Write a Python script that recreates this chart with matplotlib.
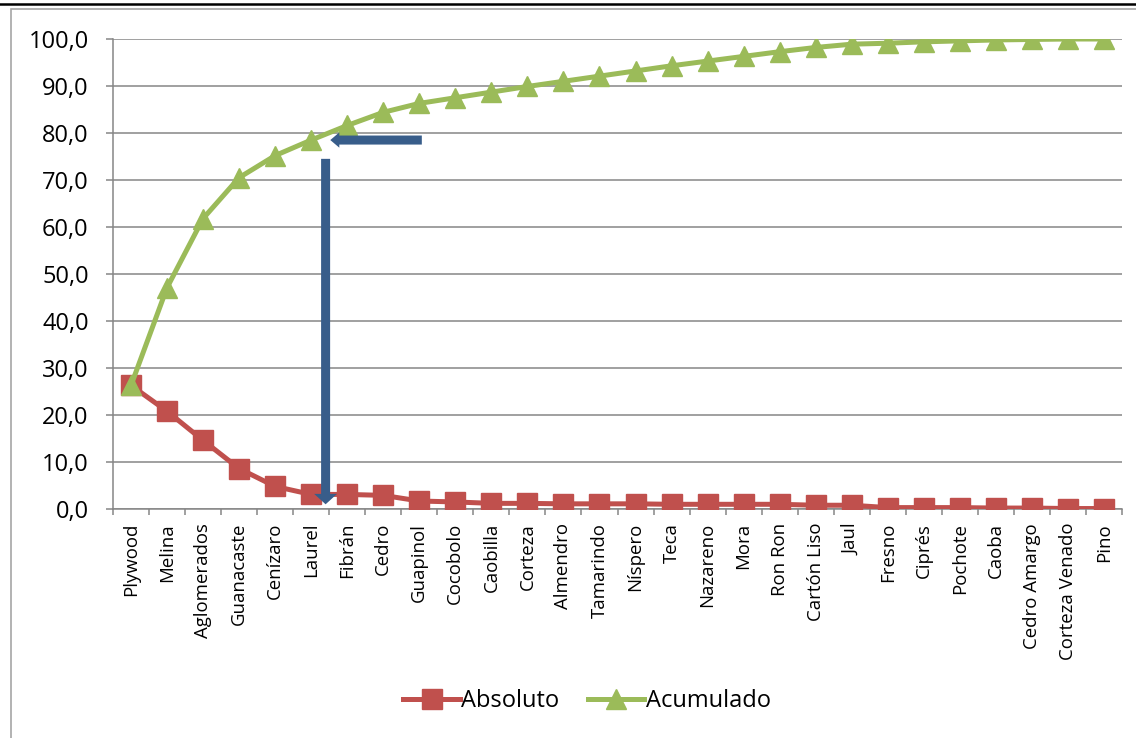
import matplotlib.pyplot as plt
from matplotlib.lines import Line2D
from matplotlib.patches import FancyArrowPatch, Rectangle, ArrowStyle

plt.rcParams["font.family"] = ["Open Sans", "DejaVu Sans"]

# data
especies = ["Plywood", "Melina", "Aglomerados", "Guanacaste", "Cenízaro", "Laurel",
            "Fibrán", "Cedro", "Guapinol", "Cocobolo", "Caobilla", "Corteza",
            "Almendro", "Tamarindo", "Níspero", "Teca", "Nazareno", "Mora",
            "Ron Ron", "Cartón Liso", "Jaul", "Fresno", "Ciprés", "Pochote",
            "Caoba", "Cedro Amargo", "Corteza Venado", "Pino"]
absoluto = [26.3, 20.8, 14.6, 8.6, 4.8, 3.1, 3.1, 2.9, 1.7, 1.5, 1.2, 1.2, 1.1, 1.1,
            1.1, 1.0, 1.0, 1.0, 1.0, 0.8, 0.8, 0.3, 0.3, 0.3, 0.2, 0.2, 0.1, 0.1]
acumulado = [26.3, 47.1, 61.8, 70.5, 75.2, 78.5, 81.6, 84.4, 86.3, 87.5, 88.7, 89.9,
             91.0, 92.1, 93.2, 94.3, 95.3, 96.3, 97.3, 98.2, 98.9, 99.1, 99.4, 99.6,
             99.8, 99.9, 100.0, 100.0]

# arrows marking the 80 % cut (x in category units, y in %)
flecha_h = [(8.07, 78.5), (5.53, 78.5)]
flecha_v = [(5.40, 74.5), (5.40, 1.0)]

rojo = "#C0504D"
verde = "#9BBB59"
azul = "#385D8A"
gris = "#868686"

fig = plt.figure(figsize=(11.36, 7.38), dpi=100)
ax = fig.add_axes([113 / 1136, 1 - 509 / 738, (1122 - 113) / 1136, 470 / 738])

x = list(range(len(especies)))
l1, = ax.plot(x, absoluto, color=rojo, lw=3.6, marker="s", ms=13.8,
              mec=rojo, mfc=rojo, label="Absoluto", zorder=3)
l2, = ax.plot(x, acumulado, color=verde, lw=3.6, marker="^", ms=15,
              mec=verde, mfc=verde, label="Acumulado", zorder=4)

estilo_h = ArrowStyle.Simple(head_length=6.5, head_width=11, tail_width=6.5)
estilo_v = ArrowStyle.Simple(head_length=7.5, head_width=16.5, tail_width=6.5)
for (p0, p1), estilo in [(flecha_h, estilo_h), (flecha_v, estilo_v)]:
    ax.add_patch(FancyArrowPatch(p0, p1, arrowstyle=estilo, mutation_scale=1,
                                 color=azul, lw=0, shrinkA=0, shrinkB=0,
                                 zorder=5))

ax.set_xlim(-0.5, len(especies) - 0.5)
ax.set_ylim(0, 100)
ax.set_yticks(range(0, 101, 10))
ax.set_yticklabels([f"{v:.1f}".replace(".", ",") for v in range(0, 101, 10)])
ax.set_xticks(x)
ax.set_xticklabels(especies, rotation=90)
ax.set_xticks([i + 0.5 for i in range(-1, len(especies))], minor=True)

ax.tick_params(axis="y", length=5, width=1.1, color=gris, pad=12.5,
               labelsize=17)
ax.tick_params(axis="x", which="major", length=0, pad=10, labelsize=13.4)
ax.tick_params(axis="x", which="minor", length=4, width=1.1, color=gris)

ax.grid(axis="y", color=gris, lw=1.1)
ax.set_axisbelow(True)
for s in ["top", "right"]:
    ax.spines[s].set_visible(False)
for s in ["left", "bottom"]:
    ax.spines[s].set_color(gris)
    ax.spines[s].set_linewidth(1.1)

fig.legend(handles=[l1, l2], loc="center", bbox_to_anchor=(587 / 1136, 1 - 701 / 738),
           ncol=2, frameon=False, fontsize=17, handlelength=2.4,
           handletextpad=0.05, columnspacing=1.2)

# outer chart frame and page rule
fig.add_artist(Rectangle((11 / 1136, -0.1), 1.2, 1.1 - 9 / 738, transform=fig.transFigure,
                         fill=False, edgecolor="#A6A6A6", lw=1.2))
fig.add_artist(Line2D([0, 1], [1 - 3.5 / 738] * 2, transform=fig.transFigure,
                      color="black", lw=1.8))

plt.savefig("out.png", dpi=100)
